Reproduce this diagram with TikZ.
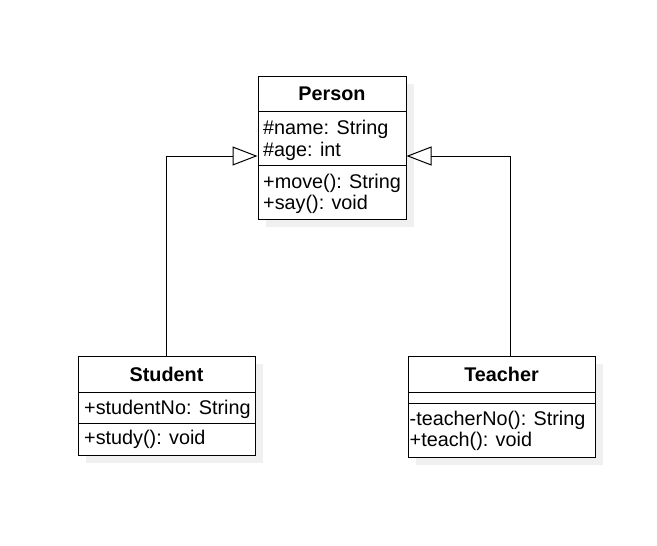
\documentclass[tikz,border=0pt]{standalone}
\usepackage{fontspec}
\setmainfont{Liberation Sans}
\usetikzlibrary{arrows.meta,shadows}

\newcommand{\umlsize}{\fontsize{19.8}{23}\selectfont}

\tikzset{
  umlbox/.style={rectangle, draw, fill=white, line width=1pt, inner sep=0pt,
    drop shadow={shadow xshift=8pt, shadow yshift=-8pt, fill=black!6, opacity=1}},
  umlline/.style={anchor=base west, inner sep=0pt},
  umlhead/.style={inner sep=0pt, font=\umlsize\bfseries},
}

\begin{document}
\begin{tikzpicture}[x=1pt, y=-1pt, ->, >={Triangle[open, length=25pt, width=19pt]},
    font=\umlsize]

    \useasboundingbox (0,0) rectangle (657,546);

    % Person
    \node[umlbox,
          minimum width = 148pt,
          minimum height = 35pt
          ] (pnhead) at (332,93.5) {};
    \node[umlhead] at (pnhead.center) {Person};

    \node[umlbox,
          minimum width = 148pt,
          minimum height = 54pt
          ] (pnattr) at (332,138) {};
    \node[umlline] at (263,134.5) {\#name: String};
    \node[umlline] at (263,156) {\#age: int};

    \node[umlbox,
          minimum width = 148pt,
          minimum height = 54pt
          ] (pnmeth) at (332,192) {};
    \node[umlline] at (263,188) {+move(): String};
    \node[umlline] at (263,209.5) {+say(): void};

    % Student
    \node[umlbox,
          minimum width = 177pt,
          minimum height = 36pt
          ] (sthead) at (166.5,374) {};
    \node[umlhead] at (sthead.center) {Student};

    \node[umlbox,
          minimum width = 177pt,
          minimum height = 31pt
          ] (stattr) at (166.5,407.5) {};
    \node[umlline] at (84,414) {+studentNo: String};

    \node[umlbox,
          minimum width = 177pt,
          minimum height = 32pt
          ] (stmeth) at (166.5,439) {};
    \node[umlline] at (84,444) {+study(): void};

    % Teacher
    \node[umlbox,
          minimum width = 187pt,
          minimum height = 36pt
          ] (tchead) at (501.5,374) {};
    \node[umlhead] at (tchead.center) {Teacher};

    \node[umlbox,
          minimum width = 187pt,
          minimum height = 11pt
          ] (tcattr) at (501.5,397.5) {};

    \node[umlbox,
          minimum width = 187pt,
          minimum height = 54pt
          ] (tcmeth) at (501.5,430) {};
    \node[umlline] at (409.5,425) {-teacherNo(): String};
    \node[umlline] at (409.5,446.7) {+teach(): void};

    %generalisation
    \draw[line width=1pt] (sthead.north) |- ([yshift=-18pt]pnattr.west);
    \draw[line width=1pt] ([xshift=9pt]tchead.north) |- ([yshift=-18pt]pnattr.east);

\end{tikzpicture}
\end{document}
